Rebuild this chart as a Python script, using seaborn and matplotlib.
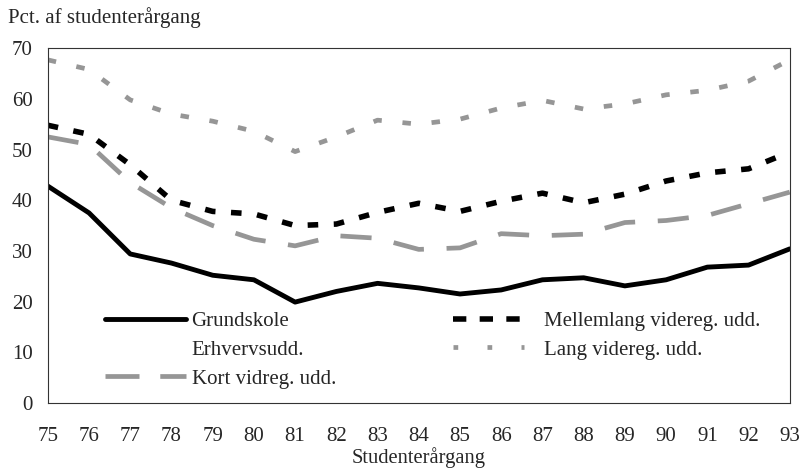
import matplotlib
matplotlib.use("Agg")
import matplotlib.pyplot as plt
from matplotlib.lines import Line2D
import seaborn as sns
import pandas as pd

# Data (pct. of student cohort)
years = list(range(75, 94))
grundskole = [42.8, 37.5, 29.4, 27.6, 25.2, 24.3, 19.9, 22.0, 23.6, 22.7, 21.5, 22.3,
              24.3, 24.7, 23.1, 24.3, 26.8, 27.2, 30.4]
mellemlang = [54.8, 53.0, 47.0, 40.0, 37.8, 37.3, 35.0, 35.3, 37.6, 39.4, 37.8, 39.8,
              41.4, 39.5, 41.2, 43.8, 45.4, 46.2, 49.5]
lang = [67.7, 65.8, 59.8, 57.0, 55.6, 53.6, 49.6, 52.5, 55.8, 55.0, 56.0, 58.2,
        59.7, 58.0, 59.0, 60.8, 61.7, 63.5, 67.7]
kort = [52.5, 51.0, 43.5, 38.5, 35.0, 32.3, 31.0, 33.0, 32.5, 30.3, 30.6, 33.4,
        33.0, 33.3, 35.6, 36.0, 37.0, 39.3, 41.6]

labels = ["Grundskole", "Erhvervsudd.", "Kort vidreg. udd.",
          "Mellemlang videreg. udd.", "Lang videreg. udd."]

sns.set_style("white")
plt.rcParams['font.family'] = ['Liberation Serif', 'DejaVu Serif']

fig = plt.figure(figsize=(8.1, 4.68), dpi=100)
ax = fig.add_axes([0.059, 0.139, 0.916, 0.758])

df = pd.DataFrame({"year": years, "grund": grundskole, "mellem": mellemlang,
                   "lang": lang, "kort": kort})

grey = "#969696"
sns.lineplot(data=df, x="year", y="grund", ax=ax, color="black", lw=3.5)
sns.lineplot(data=df, x="year", y="kort", ax=ax, color=grey, lw=3.4)
ax.lines[-1].set_dashes([6.6, 4.8])
sns.lineplot(data=df, x="year", y="mellem", ax=ax, color="black", lw=4)
ax.lines[-1].set_dashes([1.9, 2.8])
sns.lineplot(data=df, x="year", y="lang", ax=ax, color=grey, lw=3.4)
ax.lines[-1].set_dashes([1.8, 4.4])

ax.set_xlim(75, 93)
ax.set_ylim(0, 70)
ax.set_xticks(years)
ax.set_xticklabels([str(y) for y in years])
ax.set_yticks(range(0, 71, 10))
ax.tick_params(axis="x", length=0, pad=17, labelsize=15)
ax.tick_params(axis="y", length=0, pad=11, labelsize=15)
ax.set_xlabel("Studenterårgang", fontsize=14.8, labelpad=1)
ax.set_ylabel("")
for s in ax.spines.values():
    s.set_visible(True)
    s.set_color("#333333")
    s.set_linewidth(0.8)

fig.text(0.01, 0.963, "Pct. af studenterårgang", fontsize=15, va="center", ha="left")

left_handles = [
    Line2D([], [], color="black", lw=3.5),
    Line2D([], [], color="none"),
    Line2D([], [], color=grey, lw=3.4, dashes=[7.2, 4.4]),
]
right_handles = [
    Line2D([], [], color="black", lw=4, dashes=[2.4, 2.4]),
    Line2D([], [], color=grey, lw=3.4, dashes=[1.0, 6.2]),
]
leg1 = ax.legend(left_handles, labels[:3], loc="upper left", bbox_to_anchor=(0.066, 0.282),
                 frameon=False, fontsize=15, handlelength=3.9, handletextpad=0.25,
                 labelspacing=0.45, borderaxespad=0)
ax.add_artist(leg1)
ax.legend(right_handles, labels[3:], loc="upper left", bbox_to_anchor=(0.535, 0.282),
          frameon=False, fontsize=15, handlelength=3.4, handletextpad=0.95,
          labelspacing=0.45, borderaxespad=0)

fig.savefig("out.png", dpi=100)
